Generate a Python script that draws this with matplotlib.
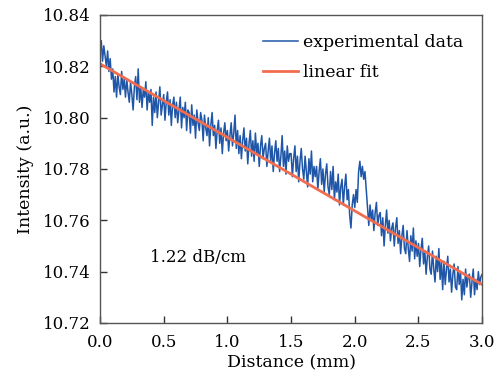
import numpy as np
import matplotlib
matplotlib.use('Agg')
import matplotlib.pyplot as plt

plt.rcParams['font.family'] = ['DejaVu Serif']

intensity = [
    10.826, 10.830, 10.822, 10.828, 10.824, 10.820, 10.826, 10.818, 10.823, 10.815,
    10.819, 10.810, 10.816, 10.808, 10.817, 10.812, 10.809, 10.818, 10.811, 10.815,
    10.808, 10.815, 10.810, 10.806, 10.814, 10.809, 10.803, 10.812, 10.816, 10.807,
    10.819, 10.806, 10.812, 10.804, 10.811, 10.808, 10.814, 10.803, 10.810, 10.806,
    10.811, 10.797, 10.808, 10.802, 10.810, 10.800, 10.806, 10.812, 10.801, 10.805,
    10.809, 10.799, 10.806, 10.810, 10.801, 10.807, 10.797, 10.805, 10.808, 10.800,
    10.806, 10.798, 10.803, 10.808, 10.796, 10.804, 10.800, 10.806, 10.795, 10.803,
    10.802, 10.794, 10.805, 10.797, 10.801, 10.792, 10.803, 10.798, 10.795, 10.802,
    10.799, 10.791, 10.801, 10.796, 10.793, 10.800, 10.789, 10.797, 10.802, 10.793,
    10.797, 10.788, 10.795, 10.799, 10.790, 10.796, 10.786, 10.794, 10.798, 10.791,
    10.795, 10.787, 10.793, 10.798, 10.789, 10.794, 10.801, 10.788, 10.795, 10.786,
    10.793, 10.784, 10.791, 10.796, 10.787, 10.792, 10.782, 10.790, 10.795, 10.785,
    10.791, 10.783, 10.794, 10.786, 10.790, 10.781, 10.789, 10.793, 10.784, 10.788,
    10.790, 10.781, 10.787, 10.792, 10.783, 10.789, 10.779, 10.786, 10.791, 10.783,
    10.788, 10.779, 10.785, 10.793, 10.781, 10.787, 10.778, 10.789, 10.783, 10.786,
    10.786, 10.777, 10.784, 10.789, 10.779, 10.785, 10.775, 10.783, 10.788, 10.780,
    10.776, 10.785, 10.779, 10.773, 10.784, 10.778, 10.787, 10.775, 10.781, 10.777,
    10.781, 10.772, 10.779, 10.784, 10.774, 10.780, 10.771, 10.778, 10.782, 10.773,
    10.770, 10.779, 10.772, 10.781, 10.768, 10.775, 10.771, 10.778, 10.766, 10.773,
    10.776, 10.766, 10.773, 10.778, 10.768, 10.772, 10.762, 10.757, 10.766, 10.770,
    10.765, 10.772, 10.767, 10.779, 10.783, 10.777, 10.781, 10.776, 10.779, 10.772,
    10.765, 10.758, 10.766, 10.760, 10.764, 10.756, 10.763, 10.767, 10.758, 10.762,
    10.763, 10.754, 10.761, 10.750, 10.758, 10.764, 10.755, 10.760, 10.752, 10.757,
    10.759, 10.750, 10.757, 10.761, 10.751, 10.756, 10.747, 10.754, 10.758, 10.749,
    10.747, 10.756, 10.749, 10.744, 10.754, 10.748, 10.757, 10.745, 10.752, 10.746,
    10.751, 10.742, 10.749, 10.753, 10.743, 10.748, 10.739, 10.746, 10.750, 10.741,
    10.739, 10.748, 10.741, 10.736, 10.746, 10.740, 10.749, 10.737, 10.744, 10.733,
    10.744, 10.735, 10.741, 10.746, 10.736, 10.741, 10.732, 10.739, 10.743, 10.734,
    10.733, 10.742, 10.735, 10.740, 10.729, 10.737, 10.731, 10.741, 10.734, 10.738,
    10.739, 10.730, 10.736, 10.741, 10.731, 10.737, 10.733, 10.740, 10.735, 10.738,
    10.739,
]
distance = np.linspace(0.0, 3.0, len(intensity))

# linear fit end points
fit_x = [0.0, 3.0]
fit_y = [10.821, 10.735]

fig = plt.figure(figsize=(4.96, 3.75), dpi=100)
ax = fig.add_axes([0.2016, 0.1387, 0.7705, 0.8213])

ax.plot(distance, intensity, color='#1f56a8', lw=1.1, label='experimental data')
ax.plot(fit_x, fit_y, color='#f26d4f', lw=2.0, label='linear fit')

ax.set_xlim(0, 3.0)
ax.set_ylim(10.72, 10.84)
ax.set_xticks([0.0, 0.5, 1.0, 1.5, 2.0, 2.5, 3.0])
ax.set_yticks([10.72, 10.74, 10.76, 10.78, 10.80, 10.82, 10.84])
ax.set_xticklabels(['0.0', '0.5', '1.0', '1.5', '2.0', '2.5', '3.0'])
ax.set_yticklabels(['10.72', '10.74', '10.76', '10.78', '10.80', '10.82', '10.84'])
ax.tick_params(direction='in', length=5, width=1, labelsize=12, color='#333333')
ax.tick_params(axis='x', pad=8)
ax.tick_params(axis='y', pad=7)
for s in ax.spines.values():
    s.set_color('#555555')
    s.set_linewidth(1)

ax.set_xlabel('Distance (mm)', fontsize=12.5, labelpad=2)
ax.set_ylabel('Intensity (a.u.)', fontsize=12.5, labelpad=6)

ax.text(0.39, 10.7455, '1.22 dB/cm', fontsize=12, va='center')

ax.legend(loc='upper right', frameon=False, fontsize=12.5, handlelength=2.0,
          handletextpad=0.3, borderaxespad=0.7, labelspacing=0.75)

fig.savefig('out.png', dpi=100)
